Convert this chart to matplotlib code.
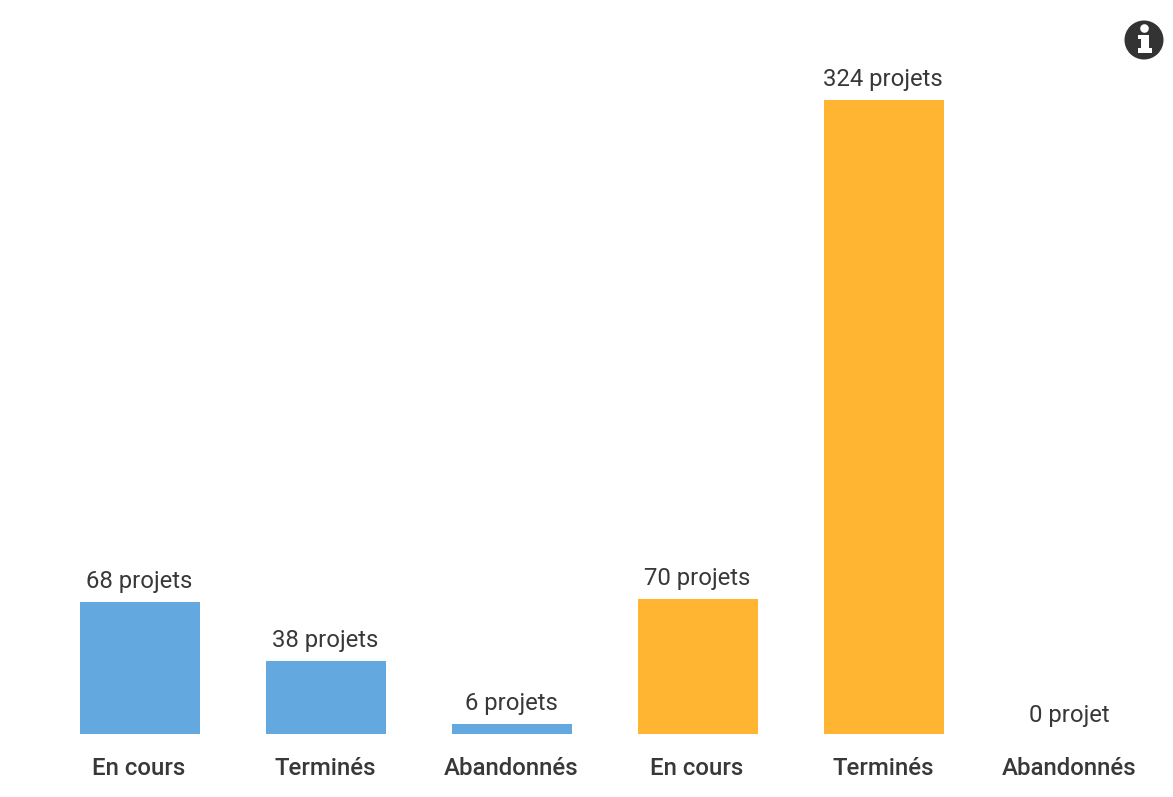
import matplotlib as mpl; mpl.use("Agg")
import matplotlib.pyplot as plt
from matplotlib.patches import Circle, Rectangle

plt.rcParams["font.family"] = ["Roboto", "DejaVu Sans"]

W, H = 1173, 797
categories = ["En cours", "Terminés", "Abandonnés", "En cours", "Terminés", "Abandonnés"]
values = [68, 38, 6, 70, 324, 0]
value_labels = ["68 projets", "38 projets", "6 projets", "70 projets", "324 projets", "0 projet"]
colors = ["#64a8e0", "#64a8e0", "#64a8e0", "#ffb531", "#ffb531", "#ffb531"]
INK = "#383838"

fig = plt.figure(figsize=(W / 100, H / 100), dpi=100)
fig.patch.set_facecolor("white")

# axes spans the plot band; the value axis starts just above 0, as in the reference
ax = fig.add_axes([47 / W, (H - 734) / H, 1116 / W, 634 / H])
xs = list(range(len(values)))
ax.bar(xs, values, width=120 / 186, color=colors, linewidth=0)
ax.set_xlim(-0.5, 5.5)
ax.set_ylim(1, 324)
ax.axis("off")

for x, v, lab in zip(xs, values, value_labels):
    ax.annotate(lab, (x, v), xytext=(-0.7, 9), textcoords="offset pixels", ha="center", va="bottom",
                fontsize=17.2, color=INK, annotation_clip=False)
for x, cat in zip(xs, categories):
    ax.annotate(cat, (x, 0), xytext=(-1, -33), textcoords="offset pixels", ha="center", va="center",
                fontsize=17.3, color=INK, weight="medium", annotation_clip=False)

# info icon, top right
ov = fig.add_axes([0, 0, 1, 1]); ov.axis("off"); ov.set_xlim(0, W); ov.set_ylim(H, 0)
ov.patch.set_alpha(0)
ov.add_patch(Circle((1144, 40), 19.5, color="#333333", lw=0))
ov.add_patch(Circle((1144.5, 28.5), 4.3, color="white", lw=0))
ov.add_patch(Rectangle((1141, 35), 8, 15, color="white", lw=0))
ov.add_patch(Rectangle((1138, 35), 5, 4, color="white", lw=0))
ov.add_patch(Rectangle((1138, 48), 14, 5, color="white", lw=0))

fig.savefig("out.png", dpi=100, facecolor="white")
